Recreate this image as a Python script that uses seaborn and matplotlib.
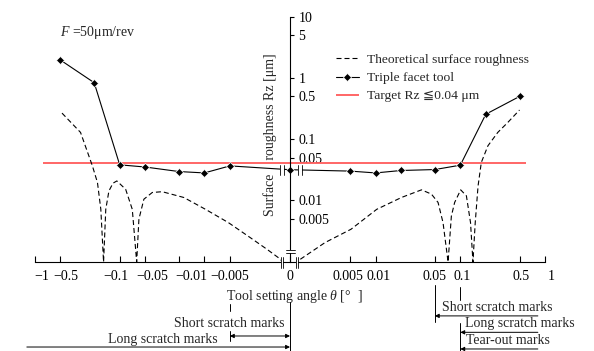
import matplotlib
matplotlib.use("Agg")
import matplotlib.pyplot as plt
import matplotlib.transforms as mtrans
from matplotlib.patches import Rectangle
from matplotlib.ticker import NullLocator
import seaborn as sns

# 実測値: triple facet tool (setting angle [deg], Rz [um])
facet_angle = [-0.5, -0.2, -0.1, -0.05, -0.02, -0.01, -0.005, 0,
               0.005, 0.01, 0.02, 0.05, 0.1, 0.2, 0.5]
facet_rz = [1.97, 0.84, 0.038, 0.035, 0.0295, 0.028, 0.0365, 0.0316,
            0.030, 0.028, 0.0307, 0.0318, 0.0375, 0.256, 0.50]

# 理論値 (左右で別々に読み取り)
theo_neg_angle = [-0.48, -0.29, -0.21, -0.183, -0.167, -0.155, -0.146, -0.134,
                  -0.12, -0.108, -0.085, -0.071, -0.063, -0.0593, -0.0518,
                  -0.0412, -0.0315, -0.0175, -0.0097, -0.0052, -0.00288,
                  -0.00183, -0.00134, -0.0012]
theo_neg_rz = [0.267, 0.129, 0.0365, 0.0195, 0.0071, 0.0, 0.0071, 0.0142,
               0.019, 0.0207, 0.0151, 0.0071, 0.0, 0.0049, 0.0104,
               0.0134, 0.0138, 0.0111, 0.0071, 0.0043, 0.00245,
               0.00158, 0.00115, 0.001]
theo_pos_angle = [0.00129, 0.00253, 0.00512, 0.0103, 0.0202, 0.0348, 0.0456,
                  0.0546, 0.0625, 0.0717, 0.0784, 0.0857, 0.101, 0.118, 0.132,
                  0.141, 0.150, 0.162, 0.177, 0.212, 0.277, 0.364, 0.50]
theo_pos_rz = [0.00108, 0.00203, 0.00335, 0.0071, 0.0111, 0.0148, 0.0126,
               0.0092, 0.0043, 0.0, 0.0055, 0.0092, 0.0148, 0.0118, 0.0043,
               0.0, 0.0043, 0.0171, 0.0416, 0.078, 0.129, 0.188, 0.30]

target_rz = 0.04
target_span = [-0.8, 0.6]

x_ticks = [-1, -0.5, -0.1, -0.05, -0.02, -0.01, -0.005, 0,
           0.005, 0.01, 0.05, 0.1, 0.5, 1]
x_ticklabels = ["−1", "−0.5", "−0.1", "−0.05", "", "−0.01", "−0.005", "0",
                "0.005", "0.01", "0.05", "0.1", "0.5", "1"]
# 元図のラベルは目盛りから少しずれている (px)
x_label_shift = [7, 5, -4, 7, 0, -13, 0, 0, -2, 3, 0, 2, 2, 6]
y_ticks = [0.005, 0.01, 0.05, 0.1, 0.5, 1, 5, 10]
y_ticklabels = ["0.005", "0.01", "0.05", "0.1", "0.5", "1", "5", "10"]

sns.set_theme(style="white")
plt.rcParams["font.family"] = ["Liberation Serif", "DejaVu Sans"]
plt.rcParams["mathtext.fontset"] = "custom"
plt.rcParams["mathtext.rm"] = "Liberation Serif"
plt.rcParams["mathtext.it"] = "Liberation Serif:italic"

fig = plt.figure(figsize=(5.94, 3.51), dpi=100)
ax = fig.add_axes([35 / 594, 89 / 351, 510 / 594, 245 / 351])

dash = (0, (4.5, 2.7))
sns.lineplot(x=theo_neg_angle, y=theo_neg_rz, ax=ax, color="black", lw=0.8,
             linestyle=dash, sort=False, label="Theoretical surface roughness")
sns.lineplot(x=theo_pos_angle, y=theo_pos_rz, ax=ax, color="black", lw=0.8,
             linestyle=dash, sort=False, label="_nolegend_")
sns.lineplot(x=facet_angle, y=facet_rz, ax=ax, color="black", lw=0.8,
             marker="D", markersize=3.8, markeredgewidth=0.5, sort=False,
             label="Triple facet tool")
ax.hlines(target_rz, *target_span, color="#ff5a5a", lw=1.3,
          label="Target Rz ≦0.04 μm", zorder=1)

ax.set_xscale("symlog", linthresh=1e-3, linscale=0.01)
ax.set_yscale("symlog", linthresh=1e-3, linscale=0.01)
ax.set_xlim(-1, 1)
ax.set_ylim(0, 10)
ax.set_xticks(x_ticks, x_ticklabels)
ax.set_yticks(y_ticks, y_ticklabels)
ax.xaxis.set_minor_locator(NullLocator())
ax.yaxis.set_minor_locator(NullLocator())

# y軸を x=0 に移動
for s in ["top", "left"]:
    ax.spines[s].set_visible(False)
ax.spines["right"].set_position(("data", 0))
ax.spines["right"].set_linewidth(0.8)
ax.spines["bottom"].set_linewidth(0.8)
for s in ["right", "bottom"]:
    ax.spines[s].set_color("black")
ax.yaxis.tick_right()
ax.tick_params(axis="y", direction="out", length=3, width=0.8, pad=3,
               labelsize=10, colors="black")
ax.tick_params(axis="x", direction="in", length=4, width=0.8, pad=6,
               labelsize=10, colors="black", bottom=True)
ax.grid(False)

for lab, sh in zip(ax.get_xticklabels(), x_label_shift):
    lab.set_transform(lab.get_transform()
                      + mtrans.ScaledTranslation(sh / 100, 0, fig.dpi_scale_trans))

ax.set_xlabel(r"Tool setting angle $\theta$ [°  ]", fontsize=10)
ax.xaxis.set_label_coords(0.508, -0.108)
ax.set_ylabel("Surface    roughness Rz [μm]", fontsize=10)
ax.yaxis.set_label_position("left")
ax.yaxis.set_label_coords(0.474, 0.518)

ax.text(0.049, 0.935, "$F$ =50μm/rev", transform=ax.transAxes, va="center",
        fontsize=10)

h, l = ax.get_legend_handles_labels()
ax.legend(h, l, loc="upper left", bbox_to_anchor=(0.59, 0.85), frameon=False,
          fontsize=9.7, handlelength=1.7, handletextpad=0.6, labelspacing=0.42,
          borderpad=0, borderaxespad=0)


# 軸の省略記号
def break_mark(x, y, trans, dx=0, dy=0, half=5.5, gap=2.4, vertical=True):
    t = fig.dpi_scale_trans + mtrans.ScaledTranslation(x, y, trans)
    dx, dy, half, gap = dx / 100, dy / 100, half / 100, gap / 100
    if vertical:
        ax.add_patch(Rectangle((dx - gap / 2, dy - half), gap, 2 * half, transform=t,
                               facecolor="white", edgecolor="none", zorder=5, clip_on=False))
        for sx in (-1, 1):
            ax.plot([dx + sx * gap / 2] * 2, [dy - half, dy + half], transform=t,
                    color="black", lw=0.6, zorder=6, clip_on=False)
    else:
        ax.add_patch(Rectangle((dx - half, dy - gap / 2), 2 * half, gap, transform=t,
                               facecolor="white", edgecolor="none", zorder=5, clip_on=False))
        for sy in (-1, 1):
            ax.plot([dx - half, dx + half], [dy + sy * gap / 2] * 2, transform=t,
                    color="black", lw=0.6, zorder=6, clip_on=False)


xa = ax.get_xaxis_transform()
break_mark(0, 0, xa, dx=-8)
break_mark(0, 0, xa, dx=7)
break_mark(0, 0, xa, dy=11, half=4.5, gap=3, vertical=False)
rz_at_zero = facet_rz[facet_angle.index(0)]
break_mark(0, rz_at_zero, ax.transData, dx=-8, half=5, gap=3.2)
break_mark(0, rz_at_zero, ax.transData, dx=10, half=5, gap=3.2)

# 下部の範囲注記
ann_fs = 10
guide = dict(color="black", lw=0.7, transform=xa, clip_on=False)
ax.plot([-0.005, -0.005], [-0.171, -0.200], **guide)
ax.plot([-0.005, -0.005], [-0.282, -0.322], **guide)
ax.plot([0, 0], [-0.162, -0.363], **guide)
ax.plot([0.05, 0.05], [-0.094, -0.244], **guide)
ax.plot([0.1, 0.1], [-0.101, -0.155], **guide)
ax.plot([0.1, 0.1], [-0.249, -0.363], **guide)

arrow = dict(arrowstyle="-|>", lw=0.7, color="black", mutation_scale=6,
             shrinkA=0, shrinkB=0)
both = dict(arrow, arrowstyle="<|-|>")
ax.annotate("", xy=(0, -0.302), xytext=(-0.005, -0.302), xycoords=xa,
            textcoords=xa, arrowprops=both, annotation_clip=False)
ax.annotate("", xy=(0, -0.347), xytext=(-0.016, -0.347), xycoords=xa,
            textcoords="axes fraction", arrowprops=arrow, annotation_clip=False)
ax.annotate("", xy=(0.05, -0.220), xytext=(0.986, -0.220), xycoords=xa,
            textcoords="axes fraction", arrowprops=arrow, annotation_clip=False)
ax.annotate("", xy=(0.1, -0.287), xytext=(0.986, -0.287), xycoords=xa,
            textcoords="axes fraction", arrowprops=arrow, annotation_clip=False)
ax.annotate("", xy=(0.1, -0.355), xytext=(0.986, -0.355), xycoords=xa,
            textcoords="axes fraction", arrowprops=arrow, annotation_clip=False)

txt = dict(xycoords=xa, textcoords="offset pixels", va="center",
           fontsize=ann_fs, annotation_clip=False)
ax.annotate("Short scratch marks", xy=(0, -0.253), xytext=(-6, 0), ha="right", **txt)
ax.annotate("Long scratch marks", xy=(-0.005, -0.318), xytext=(-12, 0), ha="right", **txt)
ax.annotate("Short scratch marks", xy=(0.05, -0.184), xytext=(7, 0), ha="left", **txt)
ax.annotate("Long scratch marks", xy=(0.1, -0.253), xytext=(5, 0), ha="left", **txt)
ax.annotate("Tear-out marks", xy=(0.1, -0.322), xytext=(6, 0), ha="left", **txt)

fig.savefig("out.png", dpi=100)
